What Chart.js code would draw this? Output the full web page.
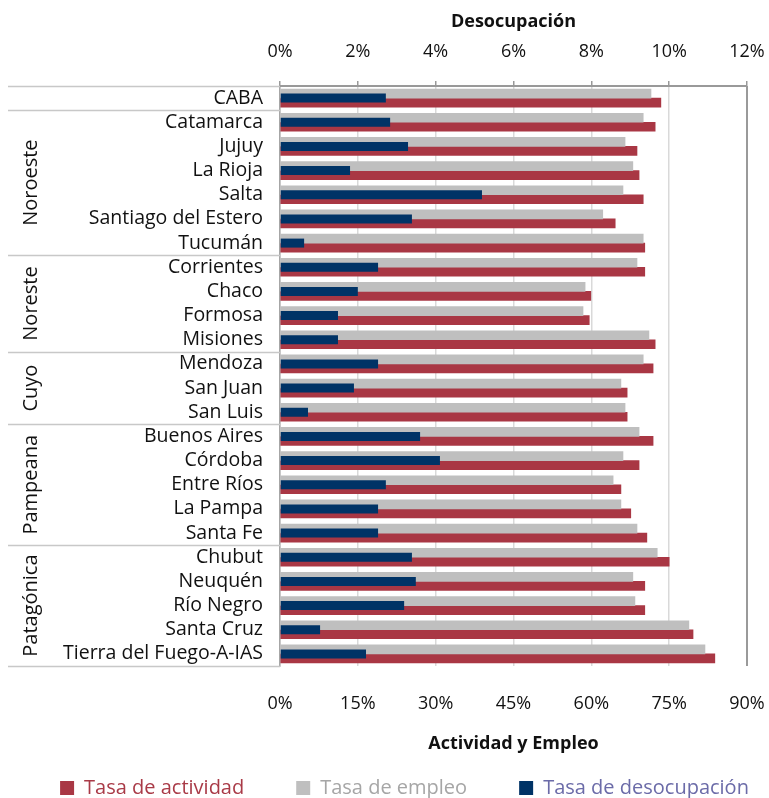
<!DOCTYPE html>
<html>
<head>
<meta charset="utf-8">
<script src="https://cdn.jsdelivr.net/npm/chart.js@4.4.1/dist/chart.umd.min.js"></script>
<style>
  html, body { margin: 0; padding: 0; background: #fff; }
</style>
</head>
<body>
<canvas id="chart" width="769" height="798"></canvas>
<script>
const provincias = [
  "CABA", "Catamarca", "Jujuy", "La Rioja", "Salta", "Santiago del Estero", "Tucumán",
  "Corrientes", "Chaco", "Formosa", "Misiones",
  "Mendoza", "San Juan", "San Luis",
  "Buenos Aires", "Córdoba", "Entre Ríos", "La Pampa", "Santa Fe",
  "Chubut", "Neuquén", "Río Negro", "Santa Cruz", "Tierra del Fuego-A-IAS"
];
const tasaActividad = [
  73.4, 72.3, 68.8, 69.2, 70.0, 64.6, 70.3,
  70.3, 59.9, 59.6, 72.3,
  71.9, 66.9, 66.9,
  71.9, 69.2, 65.7, 67.6, 70.7,
  75.0, 70.3, 70.3, 79.6, 83.8
];
const tasaEmpleo = [
  71.5, 70.0, 66.5, 68.0, 66.1, 62.2, 70.0,
  68.8, 58.8, 58.4, 71.1,
  70.0, 65.7, 66.5,
  69.2, 66.1, 64.2, 65.7, 68.8,
  72.7, 68.0, 68.4, 78.8, 81.9
];
const tasaDesocupacion = [
  2.72, 2.83, 3.29, 1.80, 5.19, 3.39, 0.62,
  2.52, 2.00, 1.49, 1.49,
  2.52, 1.90, 0.72,
  3.60, 4.11, 2.72, 2.52, 2.52,
  3.39, 3.49, 3.19, 1.03, 2.21
];
const regiones = ["", "Noroeste", "Noreste", "Cuyo", "Pampeana", "Patagónica"];
const provinciasPorRegion = [1, 6, 4, 3, 5, 5];

const FONT = "'Open Sans', sans-serif";
const RED = "#a93744", GRAY = "#bfbfbf", NAVY = "#003366";

// separadores y nombres de region a la izquierda
const regionPlugin = {
  id: "regiones",
  afterDraw(chart) {
    const { ctx, chartArea } = chart;
    const y = chart.scales.y;
    ctx.save();
    ctx.strokeStyle = "#c8c8c8";
    ctx.lineWidth = 1.5;
    let start = 0;
    const bounds = [0];
    provinciasPorRegion.forEach(n => { start += n; bounds.push(start); });
    bounds.forEach(b => {
      const py = Math.round(y.getPixelForValue(b - 0.5)) + 0.5;
      ctx.beginPath();
      ctx.moveTo(8, py);
      ctx.lineTo(chartArea.left, py);
      ctx.stroke();
    });
    ctx.fillStyle = "#111";
    ctx.font = "20px " + FONT;
    ctx.textAlign = "center";
    ctx.textBaseline = "middle";
    regiones.forEach((r, i) => {
      if (!r) return;
      const top = y.getPixelForValue(bounds[i] - 0.5);
      const bottom = y.getPixelForValue(bounds[i + 1] - 0.5);
      ctx.save();
      ctx.translate(31, (top + bottom) / 2);
      ctx.rotate(-Math.PI / 2);
      ctx.fillText(r, 0, 0);
      ctx.restore();
    });
    // borde derecho del area
    ctx.strokeStyle = "#9a9a9a";
    ctx.lineWidth = 2;
    ctx.beginPath();
    ctx.moveTo(chartArea.right, chartArea.top);
    ctx.lineTo(chartArea.right, chartArea.bottom);
    ctx.stroke();
    ctx.restore();
  }
};

// el area termina en x=747
const sidePadding = s => { s.paddingLeft = 0; s.paddingRight = 22; };

// orden de la leyenda: actividad, empleo, desocupacion
const legendOrder = [1, 0, 2];
const legendTextColors = ["#a6a6a6", "#a93a47", "#6b6ba8"];

new Chart(document.getElementById("chart"), {
  type: "bar",
  data: {
    labels: provincias,
    datasets: [
      {
        label: "Tasa de empleo",
        data: tasaEmpleo,
        backgroundColor: GRAY,
        xAxisID: "x",
        barThickness: 9,
        order: 1
      },
      {
        label: "Tasa de actividad",
        data: tasaActividad,
        backgroundColor: RED,
        xAxisID: "x",
        barThickness: 9,
        order: 1
      },
      {
        label: "Tasa de desocupación",
        data: tasaDesocupacion,
        backgroundColor: NAVY,
        xAxisID: "x2",
        grouped: false,
        barPercentage: 1,
        categoryPercentage: 0.372,
        order: 0
      }
    ]
  },
  options: {
    indexAxis: "y",
    responsive: false,
    animation: false,
    layout: { padding: { left: 0, right: -40, top: 0, bottom: -10 } },
    scales: {
      y: {
        type: "category",
        position: "left",
        grid: { display: false },
        border: { color: "#a6a6a6", width: 1.5 },
        ticks: { color: "#111", font: { family: FONT, size: 19.5 }, padding: 9, autoSkip: false },
        afterFit: s => { s.width = 280; }
      },
      x: {
        position: "bottom",
        min: 0,
        max: 90,
        grid: { color: "#d9d9d9", lineWidth: 1.5, drawTicks: false },
        border: { display: false },
        ticks: {
          stepSize: 15,
          color: "#111",
          font: { family: FONT, size: 18 },
          padding: 27,
          callback: v => v + "%"
        },
        title: {
          display: true,
          text: "Actividad y Empleo",
          color: "#111",
          font: { family: FONT, size: 18, weight: "bold" },
          padding: { top: 0, bottom: -29 }
        },
        afterFit: s => { s.height = 60; sidePadding(s); }
      },
      x2: {
        position: "top",
        min: 0,
        max: 12,
        grid: { drawOnChartArea: false, drawTicks: true, tickLength: 5, color: "#999", lineWidth: 1.5 },
        border: { color: "#999", width: 2 },
        ticks: {
          stepSize: 2,
          color: "#111",
          font: { family: FONT, size: 18 },
          padding: 18,
          callback: v => v + "%"
        },
        title: {
          display: true,
          text: "Desocupación",
          color: "#111",
          font: { family: FONT, size: 18, weight: "bold" },
          padding: { top: 11, bottom: 0 }
        },
        afterFit: s => { s.height = 86; sidePadding(s); }
      }
    },
    plugins: {
      legend: {
        position: "bottom",
        labels: {
          boxWidth: 14,
          boxHeight: 14,
          padding: 52,
          font: { family: FONT, size: 20 },
          generateLabels: chart => legendOrder.map(i => {
            const ds = chart.data.datasets[i];
            return {
              text: ds.label,
              fillStyle: ds.backgroundColor,
              strokeStyle: ds.backgroundColor,
              lineWidth: 0,
              fontColor: legendTextColors[i],
              hidden: !chart.isDatasetVisible(i),
              datasetIndex: i
            };
          })
        }
      },
      tooltip: { enabled: true }
    }
  },
  plugins: [regionPlugin]
});
</script>
</body>
</html>
